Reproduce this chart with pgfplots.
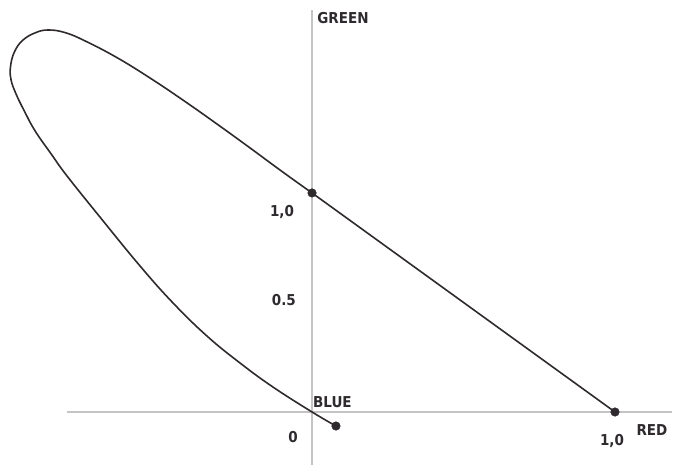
\documentclass[border=0pt]{standalone}
\usepackage{pgfplots}
\pgfplotsset{compat=1.18}
\usepackage{fontspec}
\setmainfont{Liberation Sans}
\newfontfamily\labfont{DejaVu Sans Condensed}

\definecolor{axisgray}{HTML}{C4C4C4}
\definecolor{inkgray}{HTML}{2E2A2E}
\tikzset{lab/.style={font=\labfont\bfseries\fontsize{15bp}{15bp}\selectfont, text=inkgray, inner sep=0pt}}

\begin{document}
\begin{tikzpicture}
\begin{axis}[
  scale only axis, width=678bp, height=465bp,
  xmin=-1.030, xmax=1.208, ymin=-0.242, ymax=1.881,
  hide axis, clip=false,
]
% page area
\path (rel axis cs:0,0) rectangle (rel axis cs:1,1);

% r and g axes
\draw[axisgray, line width=1.4bp] (axis cs:-0.809,0) -- (axis cs:1.188,0);
\draw[axisgray, line width=1.4bp] (axis cs:0,-0.242) -- (axis cs:0,1.836);

% spectral locus, from the blue end round to the green primary
\addplot[inkgray, line width=1.6bp, smooth, tension=0.7] coordinates {
  (0.079,-0.064) (0.000,0.000) (-0.129,0.114) (-0.238,0.224)
  (-0.347,0.347) (-0.459,0.498) (-0.568,0.667) (-0.700,0.890)
  (-0.809,1.078) (-0.861,1.178) (-0.914,1.283) (-0.950,1.375)
  (-0.978,1.455) (-0.994,1.520) (-0.995,1.580) (-0.982,1.645)
  (-0.955,1.697) (-0.914,1.731) (-0.871,1.744) (-0.815,1.732)
  (-0.749,1.694) (-0.644,1.618) (-0.535,1.525) (-0.426,1.424)
  (-0.317,1.318) (-0.208,1.209) (-0.099,1.098) (0.000,1.000)
};
% straight edge from green to red
\addplot[inkgray, line width=1.6bp] coordinates {(0,1) (1,0)};

% primaries
\addplot[only marks, mark=*, mark size=4.3bp, inkgray] coordinates {
  (0,1) (1,0) (0.079,-0.064)
};

% labels
\node[lab, anchor=west] at (axis cs:0.017,1.799) {GREEN};
\node[lab, anchor=east] at (axis cs:-0.059,0.913) {1,0};
\node[lab, anchor=east] at (axis cs:-0.053,0.511) {0.5};
\node[lab] at (axis cs:-0.063,-0.114) {0};
\node[lab, anchor=west] at (axis cs:0.003,0.046) {BLUE};
\node[lab] at (axis cs:0.990,-0.132) {1,0};
\node[lab] at (axis cs:1.122,-0.082) {RED};
\end{axis}
\end{tikzpicture}
\end{document}
